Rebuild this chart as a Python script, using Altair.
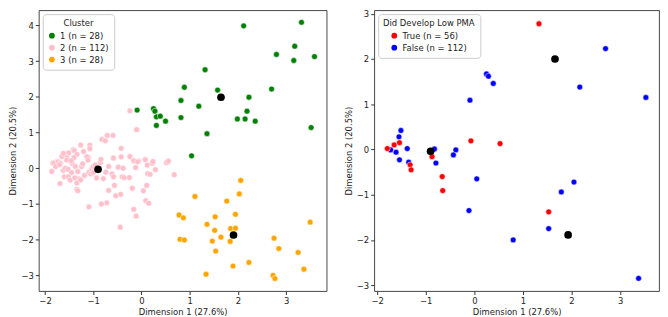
import altair as alt
import pandas as pd

# ---------------- Left panel: clusters ----------------
c1_x = [-0.09, 0.25, 0.28, 0.31, 0.39, 0.31, 0.50, 0.82, 0.89, 0.82, 1.19, 1.32, 1.36, 1.04,
        1.58, 2.12, 2.23, 2.19, 2.15, 1.99, 2.36, 2.70, 2.80, 3.16, 3.18, 3.32, 3.59, 3.52]
c1_y = [1.63, 1.67, 1.60, 1.44, 1.46, 1.20, 1.32, 1.90, 2.27, 1.42, 1.74, 2.76, 0.97, 0.35,
        2.19, 3.99, 1.99, 1.60, 1.38, 1.38, 1.32, 2.22, 3.19, 3.02, 3.42, 4.09, 3.13, 1.14]

c3_x = [2.06, 2.03, 1.11, 1.77, 1.95, 0.78, 0.87, 1.53, 1.36, 1.52, 1.85, 1.95, 1.65, 1.47,
        1.84, 0.80, 0.89, 1.54, 3.50, 2.75, 2.85, 3.25, 2.23, 1.90, 3.37, 1.34, 2.73, 2.77]
c3_y = [-0.34, -0.72, -0.79, -0.92, -1.29, -1.31, -1.39, -1.36, -1.57, -1.74, -1.69, -1.68,
        -1.93, -2.04, -2.05, -1.99, -2.01, -2.32, -1.51, -1.96, -2.25, -2.36, -2.64, -2.74,
        -2.83, -2.97, -3.00, -3.09]

c2_x = [-0.24, -0.10, -0.71, -0.59, -0.82, -0.75, -1.07, -1.07, -1.26, -1.41, -1.39, -1.51,
        -1.65, -1.34, -1.20, -1.40, -1.55, -1.14, -1.10, -0.42, -0.42, -0.58, -0.24, -0.16,
        -0.06, 0.08, 0.23, 0.55, -0.85, -1.84, -1.75,
        -1.86, -1.82, -1.73, -1.65, -1.68, -1.62, -1.58, -1.55, -1.52, -1.44, -1.60, -1.52,
        -1.69, -1.48, -1.38, -1.29, -1.34, -1.26, -1.34, -1.32, -1.37, -1.32, -1.24, -1.13,
        -1.11, -1.09, -1.05, -1.03, -1.00, -0.96, -0.93, -0.85, -0.79, -0.74, -0.68, -0.58,
        -0.61, -0.58, -0.56, -0.48, -0.40, -0.38, -0.36, -0.53, -0.43, -0.72, -0.83, -1.09,
        -0.44, -0.25, -0.19, -0.16, -0.11, -0.16, -0.08, -0.12, 0.08, 0.12, 0.13, 0.18,
        0.04, 0.11, 0.09, 0.15, 0.22, 0.24, 0.29, 0.52, 0.56, 0.68, -0.84,
        -1.78, -1.70, -1.46, -1.22, -1.62, -1.45, -1.18, -1.00, -0.68]
c2_y = [1.61, 1.08, 0.92, 0.92, 0.81, 0.77, 0.65, 0.55, 0.65, 0.52, 0.49, 0.43,
        0.35, 0.39, 0.47, 0.30, 0.30, 0.32, 0.30, 0.56, 0.32, 0.28, 0.33, 0.20,
        0.20, 0.25, 0.15, 0.17, 0.17, 0.15, 0.19,
        -0.09, 0.14, 0.18, 0.33, 0.14, -0.06, 0.00, 0.23, -0.03, 0.14, -0.24, -0.24,
        -0.43, -0.33, -0.27, -0.30, -0.41, -0.33, -0.59, -0.63, 0.05, -0.09, 0.05, 0.32,
        0.23, -0.11, -0.16, -0.02, 0.05, 0.09, -0.27, 0.16, -0.29, -0.11, -0.62, 0.29,
        -0.16, -0.24, -0.48, 0.03, -0.24, 0.00, -0.26, -0.77, -0.73, -0.97, -1.00, -1.08,
        -1.65, -0.26, -0.56, -1.15, -1.34, 0.21, 0.18, 0.02, 0.24, 0.09, -0.15, -0.17,
        -0.63, -0.48, -0.91, -0.98, 0.14, 0.19, -0.04, 0.16, 0.20, -0.18, 0.25,
        0.05, 0.10, 0.21, 0.12, 0.42, -0.12, -0.20, -0.12, 0.05]

cent_x = [1.65, -0.90, 1.91]
cent_y = [1.99, -0.03, -1.87]

cluster_labels = ["1 (n = 28)", "2 (n = 112)", "3 (n = 28)"]
cluster_colors = ["green", "pink", "orange"]

# ---------------- Right panel: Low PMA ----------------
t_x = [1.33, -0.07, 0.53, -1.54, -1.65, -1.79, -0.87, -1.32, -1.30, -0.66, -0.65, 1.53]
t_y = [2.78, 0.19, 0.13, 0.15, 0.10, 0.02, -0.16, -0.34, -0.45, -0.60, -0.91, -1.38]
f_x = [2.70, 2.17, 3.53, 0.25, 0.29, 0.39, -0.09, -1.51, -1.55, -1.72, -1.61, -1.38,
       -0.82, -0.38, -0.43, -1.54, -1.35, -0.79, 0.05, -0.11, 2.05, 1.79, 1.53, 0.80, 3.38]
f_y = [2.23, 1.38, 1.15, 1.67, 1.62, 1.46, 1.09, 0.42, 0.28, -0.01, -0.06, 0.02,
       0.01, -0.01, -0.12, -0.23, -0.28, -0.30, -0.65, -1.35, -0.72, -0.94, -1.75, -2.00, -2.85]
cent2_x = [1.66, -0.90, 1.93]
cent2_y = [2.00, -0.04, -1.89]

pma_labels = ["True (n = 56)", "False (n = 112)"]
pma_colors = ["red", "blue"]

# ---------------- frames ----------------
rows = []
for lab, xs, ys in zip(cluster_labels, [c1_x, c2_x, c3_x], [c1_y, c2_y, c3_y]):
    rows += [{"x": a, "y": b, "g": lab} for a, b in zip(xs, ys)]
df_left = pd.DataFrame(rows)
df_cent = pd.DataFrame({"x": cent_x, "y": cent_y})

rows = []
for lab, xs, ys in zip(pma_labels, [t_x, f_x], [t_y, f_y]):
    rows += [{"x": a, "y": b, "g": lab} for a, b in zip(xs, ys)]
df_right = pd.DataFrame(rows)
df_cent2 = pd.DataFrame({"x": cent2_x, "y": cent2_y})

TXT = "#222222"
FONT = "DejaVu Sans"


def panel(df, dfc, labels, colors, title, xdom, ydom, yvals, w, h):
    xs = alt.Scale(domain=xdom, nice=False, zero=False)
    ys = alt.Scale(domain=ydom, nice=False, zero=False)
    xax = alt.Axis(title="Dimension 1 (27.6%)", values=[-2, -1, 0, 1, 2, 3], grid=False,
                   format="d")
    yax = alt.Axis(title="Dimension 2 (20.5%)", values=yvals, grid=False, format="d")
    pts = alt.Chart(df).mark_circle(size=34, opacity=1, stroke="white", strokeWidth=0.5).encode(
        x=alt.X("x:Q", scale=xs, axis=xax),
        y=alt.Y("y:Q", scale=ys, axis=yax),
        color=alt.Color("g:N", sort=labels,
                        scale=alt.Scale(domain=labels, range=colors),
                        legend=alt.Legend(title=title, orient="top-left", offset=4,
                                          titleAnchor="middle", padding=5,
                                          strokeColor="#cccccc", fillColor="white",
                                          cornerRadius=3, symbolSize=34,
                                          symbolStrokeWidth=0, rowPadding=3,
                                          labelFontSize=8.5, titleFontSize=8.5,
                                          titleFontWeight="normal", titlePadding=4)),
        order=alt.Order("g:N"),
    )
    cen = alt.Chart(dfc).mark_circle(size=60, opacity=1, color="black").encode(
        x=alt.X("x:Q", scale=xs), y=alt.Y("y:Q", scale=ys)
    )
    return alt.layer(pts, cen).properties(width=w, height=h)


left = panel(df_left, df_cent, cluster_labels, cluster_colors, "Cluster",
             [-2.13, 3.84], [-3.44, 4.43], [-3, -2, -1, 0, 1, 2, 3, 4], 290, 283)
right = panel(df_right, df_cent2, pma_labels, pma_colors, "Did Develop Low PMA",
              [-2.06, 3.80], [-3.13, 3.08], [-3, -2, -1, 0, 1, 2, 3], 287, 283)

chart = alt.hconcat(left, right, spacing=16).resolve_scale(color="independent").properties(
    padding={"left": 0, "top": 0, "right": 0, "bottom": 0}
).configure_view(stroke="#333333", strokeWidth=0.9).configure_axis(
    labelFont=FONT, titleFont=FONT, labelFontSize=8.5, titleFontSize=8.5,
    labelColor=TXT, titleColor=TXT, titleFontWeight="normal",
    domain=False, tickColor="#333333", tickSize=3.5, labelPadding=2, titlePadding=3,
).configure_legend(labelFont=FONT, titleFont=FONT, labelColor=TXT, titleColor=TXT)

chart.save("out.html", embed_options={"renderer": "svg", "actions": False})
